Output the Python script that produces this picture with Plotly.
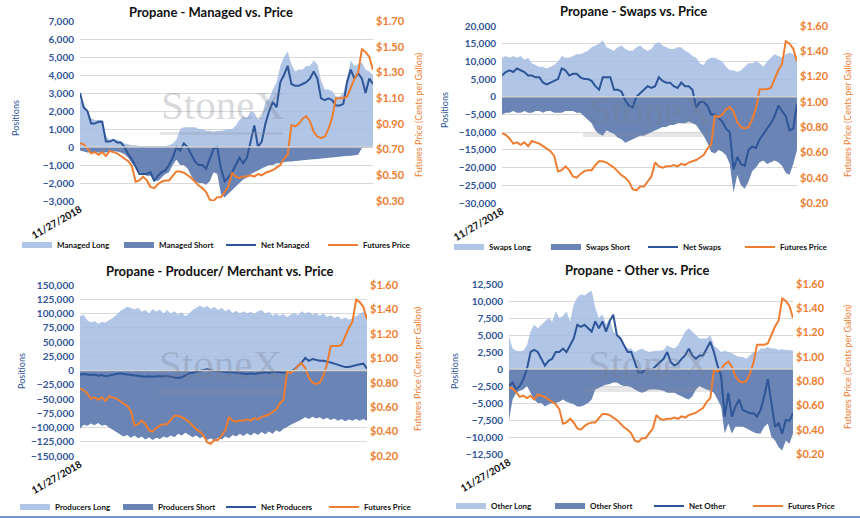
import pandas as pd
import plotly.graph_objects as go

# weekly-ish COT dates, first tick shown only
dates = pd.date_range("2018-11-27", periods=80, freq="14D")

futures_price = [0.75, 0.74, 0.71, 0.67, 0.68, 0.66, 0.68, 0.65, 0.69, 0.68,
                 0.67, 0.65, 0.63, 0.61, 0.57, 0.45, 0.46, 0.49, 0.46, 0.41,
                 0.40, 0.43, 0.45, 0.46, 0.46, 0.50, 0.53, 0.53, 0.52, 0.50,
                 0.48, 0.45, 0.42, 0.40, 0.37, 0.31, 0.30, 0.33, 0.33, 0.37,
                 0.41, 0.52, 0.49, 0.48, 0.49, 0.49, 0.50, 0.49, 0.51, 0.50,
                 0.52, 0.53, 0.54, 0.56, 0.58, 0.63, 0.66, 0.89, 0.88, 0.90,
                 0.94, 0.96, 0.92, 0.84, 0.80, 0.79, 0.80, 0.86, 0.95, 1.10,
                 1.10, 1.10, 1.11, 1.18, 1.25, 1.30, 1.48, 1.46, 1.42, 1.32]

managed_long = [2600, 2400, 2000, 1600, 1500, 1500, 1500, 600, 400, 450,
                400, 300, 200, 150, 100, 100, 50, 50, 50, 50,
                50, 50, 50, 50, 100, 200, 400, 1000, 1100, 1100,
                1100, 1100, 1000, 1000, 900, 900, 850, 900, 900, 950,
                1000, 1000, 1200, 1500, 1700, 1600, 2000, 1900, 1500, 1700,
                2500, 2700, 3200, 3600, 4500, 5000, 5300, 4600, 4200, 4300,
                4300, 4500, 4500, 4800, 4600, 3700, 3200, 3200, 3100, 2800,
                2800, 3000, 3800, 4800, 4500, 4600, 4700, 4300, 4200, 4000]
managed_short = [-200, -250, -300, -300, -300, -300, -300, -300, -250, -250,
                 -250, -300, -400, -600, -900, -1100, -1400, -1500, -1600, -1600,
                 -1800, -1900, -1700, -1500, -1400, -1000, -700, -1000, -1000, -1200,
                 -1600, -1900, -2000, -2000, -2100, -1900, -1400, -1500, -2600, -2800,
                 -2600, -2400, -2200, -2000, -1800, -1700, -1500, -1400, -1300, -1200,
                 -1100, -1000, -1000, -900, -900, -850, -800, -800, -780, -760,
                 -740, -720, -700, -680, -660, -640, -620, -600, -580, -560,
                 -540, -520, -500, -480, -460, -430, -50, -30, -20, -20]
net_managed = [3000, 2200, 2000, 1300, 1300, 1400, 1400, 300, 300, 400,
               250, 250, 0, -400, -700, -1100, -1500, -1500, -1500, -1400,
               -1900, -1600, -1400, -1300, -1000, -600, 0, -200, 200, 0,
               -400, -800, -1000, -1000, -1200, -600, -100, 0, -1200, -1900,
               -1700, -1400, -1000, -600, -900, -600, 300, 1200, 0, 300,
               1300, 2000, 2500, 2200, 3600, 4000, 4500, 3500, 3400, 3400,
               3500, 3600, 3800, 4200, 3800, 2700, 2600, 2700, 2600, 2300,
               2300, 2400, 3600, 4300, 3800, 4100, 3800, 3000, 3800, 3500]

swaps_long = [11000, 11500, 11000, 11500, 11000, 11500, 10500, 11000, 9500, 9000,
              8500, 8500, 8000, 8500, 9000, 10000, 11500, 11000, 11000, 11500,
              12000, 12000, 12500, 13000, 14000, 14500, 15000, 16000, 14000, 13500,
              13000, 14000, 14500, 13500, 13000, 13000, 14000, 14500, 13500, 13000,
              13500, 15000, 15500, 14500, 14000, 13500, 13500, 14000, 14000, 13000,
              12500, 11500, 11000, 9500, 9000, 10500, 11000, 11000, 10500, 10000,
              8500, 7500, 7500, 7000, 7500, 8500, 9500, 9500, 10000, 9500,
              8500, 10000, 11000, 12000, 11500, 11000, 12000, 12500, 12000, 11000]
swaps_short = [-5000, -4500, -4500, -4000, -4500, -4500, -4000, -4500, -4500, -4000,
               -4000, -4500, -4000, -4000, -4500, -4500, -4500, -4000, -4000, -4000,
               -4500, -4500, -5500, -6500, -7500, -9500, -10500, -11000, -9500, -10000,
               -10500, -11500, -12000, -13000, -12500, -12000, -11500, -11000, -11000, -10500,
               -10000, -9500, -9000, -8500, -8500, -8000, -8000, -7500, -7500, -7500,
               -7000, -7500, -8000, -9500, -11000, -13000, -15500, -16000, -15000, -15500,
               -16500, -19000, -27000, -22000, -25000, -26000, -24000, -21000, -20000, -18500,
               -18000, -19000, -18500, -18000, -18500, -19500, -21500, -22000, -19000, -15000]
net_swaps = [6000, 7000, 7500, 7000, 8000, 7500, 7000, 6000, 6000, 5500,
             5500, 4000, 3500, 4000, 4500, 5000, 8000, 7500, 6000, 6500,
             6500, 5500, 5000, 5000, 4500, 3000, 2000, 5500, 5500, 5500,
             2000, 2000, 1500, -1000, -2500, -3000, 0, 1000, 2000, 3000,
             2500, 3000, 5500, 4500, 4000, 4000, 3000, 2500, 4000, 3000,
             3000, 2000, -3000, -1500, -1500, -2500, -5000, -5000, -6000, -7000,
             -9000, -10000, -20500, -17000, -19000, -19500, -15000, -14000, -14500, -12000,
             -10500, -9000, -7500, -5500, -2500, -4000, -5500, -9500, -9000, -2000]

producers_long = [95000, 98000, 88000, 84000, 87000, 82000, 85000, 84000, 88000, 92000,
                  98000, 104000, 108000, 112000, 110000, 107000, 110000, 103000, 106000, 100000,
                  108000, 103000, 107000, 100000, 106000, 100000, 104000, 98000, 102000, 95000,
                  100000, 106000, 110000, 114000, 110000, 113000, 108000, 112000, 106000, 110000,
                  104000, 108000, 101000, 105000, 100000, 104000, 100000, 103000, 99000, 104000,
                  106000, 100000, 103000, 96000, 100000, 96000, 99000, 94000, 98000, 101000,
                  97000, 104000, 100000, 103000, 98000, 101000, 96000, 100000, 94000, 97000,
                  92000, 95000, 90000, 93000, 89000, 92000, 95000, 100000, 103000, 98000]
producers_short = [-102000, -95000, -97000, -93000, -96000, -92000, -97000, -95000, -100000, -104000,
                   -108000, -112000, -116000, -113000, -118000, -114000, -119000, -116000, -121000, -117000,
                   -122000, -118000, -120000, -116000, -118000, -114000, -117000, -111000, -114000, -109000,
                   -113000, -117000, -114000, -119000, -116000, -122000, -119000, -123000, -118000, -121000,
                   -116000, -119000, -113000, -116000, -111000, -115000, -110000, -114000, -109000, -113000,
                   -108000, -112000, -107000, -111000, -105000, -108000, -102000, -99000, -95000, -92000,
                   -89000, -86000, -82000, -85000, -81000, -84000, -82000, -86000, -83000, -87000,
                   -84000, -88000, -85000, -89000, -86000, -88000, -85000, -88000, -85000, -88000]
net_producers = [-7000, -6000, -7000, -8000, -7000, -9000, -8000, -10000, -9000, -8000,
                 -6000, -5000, -6000, -7000, -8000, -8000, -9000, -10000, -11000, -10000,
                 -11000, -10000, -10000, -9000, -10000, -11000, -12000, -13000, -12000, -8000,
                 -5000, -4000, -2000, -1000, 1000, 2000, 0, -1000, -1000, -2000,
                 -2000, -3000, -3000, -4000, -5000, -5000, -6000, -5000, -6000, -5000,
                 -4000, -3000, -4000, -3000, -2000, -3000, -4000, -2000, -1000, 2000,
                 8000, 14000, 22000, 17000, 20000, 18000, 17000, 17000, 16000, 14000,
                 12000, 10000, 8000, 6000, 6000, 8000, 9000, 11000, 12000, 3000]

other_long = [4800, 3000, 2700, 2600, 2700, 3500, 5500, 6500, 6000, 6500,
              7000, 7500, 7000, 8500, 7500, 7800, 8500, 7000, 9500, 10500,
              11000, 10800, 11200, 11500, 9000, 7500, 8000, 6500, 7500, 5500,
              5000, 4500, 3500, 3000, 3000, 2500, 2800, 3000, 2700, 2500,
              2600, 2700, 2700, 2800, 3500, 3200, 3000, 3500, 4500, 5500,
              6000, 5500, 5000, 4500, 4500, 4500, 5000, 3500, 3000, 2500,
              2700, 2500, 2300, 2000, 1800, 1800, 1500, 2000, 2500, 2500,
              3000, 3000, 3200, 3000, 3000, 2800, 2900, 2800, 2800, 2700]
other_short = [-7500, -4500, -3500, -3200, -3000, -2500, -3500, -4500, -5000, -5000,
               -5500, -5200, -5000, -5000, -4800, -4500, -4800, -5000, -5200, -5500,
               -5500, -5300, -5000, -4500, -3000, -2800, -2500, -2300, -2200, -2000,
               -2000, -2300, -2500, -2500, -2700, -3000, -3300, -3500, -3300, -3000,
               -3000, -3000, -3100, -3200, -3500, -3500, -3500, -3800, -4000, -4300,
               -4500, -4000, -3000, -2500, -2800, -3000, -3200, -3500, -4500, -5500,
               -9500, -8000, -9500, -8500, -8500, -8500, -8700, -9000, -9300, -9500,
               -9500, -8500, -8000, -10000, -10500, -11500, -12000, -10500, -11000, -9500]
net_other = [-2500, -2000, -3000, -2500, -1500, 0, 2500, 2800, 2500, 1500,
             500, 1200, 1500, 2500, 2500, 3000, 2500, 3500, 4500, 6500,
             6200, 6500, 6000, 5500, 7000, 6000, 7000, 5500, 7000, 8000,
             5000, 4500, 3500, 2500, 2500, 1000, -500, -500, 0, 0,
             0, 500, 1000, 1500, 2500, 1000, 500, 800, 1500, 2000,
             3000, 2000, 1500, 2000, 2000, 3000, 4000, 2500, 500, -1000,
             -7000, -3500, -7000, -5500, -4500, -6000, -6200, -6500, -6500, -7000,
             -6000, -4000, -1500, -5000, -8500, -8000, -9500, -7500, -7600, -6500]

LIGHT = "rgba(163,187,227,0.85)"
DARK = "#6A84B5"
NAVY = "#2E5597"
ORANGE = "#ED7D31"
BLUE_TXT = "#2F5597"
FONT = "Lato"

FW, FH = 860, 518


def fx(px):
    return px / FW


def fy(py):
    return 1 - py / FH


# layout positions are in screen pixels of the reference
panels = [
    dict(title="Propane - Managed vs. Price", names=("Managed Long", "Managed Short", "Net Managed"),
         data=(managed_long, managed_short, net_managed), yr=[-3000, 7000], dt=1000,
         pr=[0.30, 1.70], box=(80, 373, 21, 201), tpos=(211, 12), leg=(17, 245), ew=57,
         pos_t=(15, 118), fut_t=(418, 115), wm=(222, 105), bar=(160, 283, 132, 135)),
    dict(title="Propane - Swaps vs. Price", names=("Swaps Long", "Swaps Short", "Net Swaps"),
         data=(swaps_long, swaps_short, net_swaps), yr=[-30000, 20000], dt=5000,
         pr=[0.20, 1.60], box=(502, 797, 26, 203), tpos=(633, 11), leg=(449, 247), ew=52,
         pos_t=(444, 110), fut_t=(847, 115), wm=(650, 110), bar=(583, 710, 133, 137)),
    dict(title="Propane - Producer/ Merchant vs. Price", names=("Producers Long", "Producers Short", "Net Producers"),
         data=(producers_long, producers_short, net_producers), yr=[-150000, 150000], dt=25000,
         pr=[0.20, 1.60], box=(80, 367, 285, 456), tpos=(220, 271), leg=(15, 507), ew=58,
         pos_t=(21, 371), fut_t=(417, 369), wm=(221, 364), bar=(158, 283, 389, 394)),
    dict(title="Propane - Other vs. Price", names=("Other Long", "Other Short", "Net Other"),
         data=(other_long, other_short, net_other), yr=[-12500, 12500], dt=2500,
         pr=[0.20, 1.60], box=(509, 793, 284, 454), tpos=(637, 270), leg=(451, 506), ew=54,
         pos_t=(454, 371), fut_t=(847, 367), wm=(649, 364), bar=(585, 713, 387, 392)),
]

fig = go.Figure()
annotations = []
shapes = []


def note(text, px, py, size, color, angle=0, family=FONT):
    return dict(text=text, xref="paper", yref="paper", x=fx(px), y=fy(py), textangle=angle,
                xanchor="center", yanchor="middle", showarrow=False,
                font=dict(family=family, size=size, color=color))


for k, p in enumerate(panels, start=1):
    sfx = "" if k == 1 else str(k)
    xa, ya, ya2 = "x" + sfx, "y" + sfx, "y" + str(k + 4)
    lg = "legend" + sfx
    long_v, short_v, net_v = p["data"]
    x0, x1, y0, y1 = p["box"]

    fig.add_trace(go.Scatter(x=dates, y=long_v, name=p["names"][0], mode="none", fill="tozeroy",
                             fillcolor=LIGHT, xaxis=xa, yaxis=ya, legend=lg))
    fig.add_trace(go.Scatter(x=dates, y=short_v, name=p["names"][1], mode="none", fill="tozeroy",
                             fillcolor=DARK, xaxis=xa, yaxis=ya, legend=lg))
    fig.add_trace(go.Scatter(x=dates, y=net_v, name=p["names"][2], mode="lines",
                             line=dict(color=NAVY, width=2), xaxis=xa, yaxis=ya, legend=lg))
    fig.add_trace(go.Scatter(x=dates, y=futures_price, name="Futures Price", mode="lines",
                             line=dict(color=ORANGE, width=2), xaxis=xa, yaxis=ya2, legend=lg))

    fig.layout["xaxis" + sfx] = dict(
        domain=[fx(x0), fx(x1)], anchor=ya, range=[dates[0], dates[-1]], showgrid=False, zeroline=False,
        tickvals=[dates[0]], ticktext=["11/27/2018"], tickangle=-30, ticks="", automargin=False,
        tickfont=dict(family=FONT, size=10, color="#111111", weight="bold"))
    fig.layout["yaxis" + sfx] = dict(
        domain=[fy(y1), fy(y0)], anchor=xa, range=p["yr"], dtick=p["dt"], tick0=0, tickformat=",",
        showgrid=True, gridcolor="#D9D9D9", gridwidth=1, zeroline=False, automargin=False,
        ticklabelstandoff=5, tickfont=dict(family=FONT, size=10, color=BLUE_TXT, weight="bold"))
    fig.layout["yaxis" + str(k + 4)] = dict(
        overlaying=ya, anchor=xa, side="right", range=p["pr"], dtick=0.2, tick0=p["pr"][0],
        tickprefix="$", tickformat=".2f", showgrid=False, zeroline=False, automargin=False,
        ticklabelstandoff=2, tickfont=dict(family=FONT, size=11, color=ORANGE, weight="bold"))
    fig.layout[lg] = dict(
        orientation="h", x=fx(p["leg"][0]), y=fy(p["leg"][1]), xanchor="left", yanchor="middle",
        entrywidth=p["ew"], entrywidthmode="pixels", itemwidth=30, bgcolor="rgba(0,0,0,0)",
        font=dict(family=FONT, size=8, color="#111111", weight="bold"), traceorder="normal")

    # axis titles
    annotations.append(note("Positions", *p["pos_t"], 9, BLUE_TXT, angle=-90))
    annotations.append(note("Futures Price (Cents per Gallon)", *p["fut_t"], 9, ORANGE, angle=-90))

    # zero line drawn over the fills
    shapes.append(dict(type="line", xref=xa + " domain", yref=ya, x0=0, x1=1, y0=0, y1=0,
                       line=dict(color="#D0D0D0", width=1.5)))
    # StoneX watermark
    annotations.append(note("StoneX", *p["wm"], 41, "rgba(120,125,135,0.30)", family="Liberation Serif"))
    bx0, bx1, by0, by1 = p["bar"]
    shapes.append(dict(type="rect", xref="paper", yref="paper", x0=fx(bx0), x1=fx(bx1),
                       y0=fy(by1), y1=fy(by0), line=dict(width=0), fillcolor="rgba(140,140,150,0.22)"))
    annotations.append(note("<b>" + p["title"] + "</b>", *p["tpos"], 13, "#111111"))

# thin blue separator at the bottom
shapes.append(dict(type="line", xref="paper", yref="paper", x0=0, x1=1, y0=fy(517), y1=fy(517),
                   line=dict(color="#4472C4", width=1.5)))

fig.update_layout(width=FW, height=FH, margin=dict(l=0, r=0, t=0, b=0, autoexpand=False),
                  paper_bgcolor="white", plot_bgcolor="white",
                  font=dict(family=FONT), annotations=annotations, shapes=shapes,
                  hovermode=False)

# drop the default 8px page margin so the figure fills the window exactly
fig.write_html("out.html", config={"displayModeBar": False},
               post_script="document.body.style.margin='0';")
